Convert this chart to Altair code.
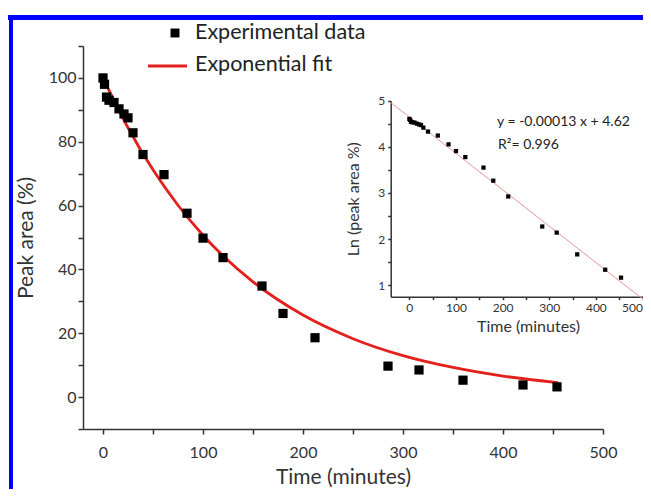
import altair as alt
import pandas as pd

# ---- data ----
time_min = [0, 1.5, 3.5, 6, 11, 16, 21, 25, 30, 40, 61, 84, 100, 120, 159, 180, 212, 285, 316, 360, 420, 454]
peak_area = [100, 98, 94, 93, 92.3, 90.3, 88.7, 87.5, 82.8, 76, 69.7, 57.6, 49.8, 43.7, 34.8, 26.2, 18.6, 9.7, 8.5, 5.3, 3.8, 3.2]

# exponential fit curve
fit_time = [0, 25, 50, 75, 100, 150, 200, 250, 300, 350, 400, 455]
fit_value = [100, 84.4, 71.2, 60.1, 50.7, 36.1, 25.7, 18.3, 13.0, 9.3, 6.6, 4.5]

legend_labels = ["Experimental data", "Exponential fit"]
inset_labels = ["y = -0.00013 x + 4.62", "R\u00b2= 0.996"]

main_x_ticks = [0, 50, 100, 150, 200, 250, 300, 350, 400, 450, 500]
main_y_ticks = [-10, 0, 10, 20, 30, 40, 50, 60, 70, 80, 90, 100, 110]
inset_x_ticks = [0, 50, 100, 150, 200, 250, 300, 350, 400, 450, 500]
inset_y_ticks = [1, 1.5, 2, 2.5, 3, 3.5, 4, 4.5, 5]

FONT = "Lato"
AX = "#333333"

df = pd.DataFrame({"t": time_min, "y": peak_area})
fit_df = pd.DataFrame({"t": fit_time, "y": fit_value})
one = pd.DataFrame({"k": [0]})

# ---- main panel ----
xm = alt.X("t:Q",
           scale=alt.Scale(domain=[-20, 500], nice=False, zero=False),
           axis=alt.Axis(values=main_x_ticks, labelFlush=False,
                         labelExpr="datum.value % 100 === 0 ? datum.label : ''",
                         title="Time (minutes)", labelPadding=10, titlePadding=6))
ym = alt.Y("y:Q",
           scale=alt.Scale(domain=[-10, 110], nice=False, zero=False),
           axis=alt.Axis(values=main_y_ticks, labelFlush=False,
                         labelExpr="(datum.value % 20 === 0 && datum.value >= 0 && datum.value <= 100) ? datum.label : ''",
                         title="Peak area (%)", titlePadding=12))

points = alt.Chart(df).mark_square(size=85, color="black", opacity=1).encode(x=xm, y=ym)
curve = (alt.Chart(fit_df)
         .mark_line(color="#e3211c", strokeWidth=2.8, interpolate="monotone")
         .encode(x=xm, y=ym))

frame_top = alt.Chart(one).mark_rule(color="#0000ff", strokeWidth=5).encode(
    x=alt.value(-80), x2=alt.value(600), y=alt.value(-28.5))
frame_left = alt.Chart(one).mark_rule(color="#0000ff", strokeWidth=4).encode(
    x=alt.value(-72), y=alt.value(-31), y2=alt.value(470))

leg_sq = alt.Chart(one).mark_square(size=80, color="black", opacity=1).encode(
    x=alt.value(92), y=alt.value(-13))
leg_line = alt.Chart(one).mark_rule(color="#e3211c", strokeWidth=3).encode(
    x=alt.value(65), x2=alt.value(104), y=alt.value(20))
leg_txt1 = alt.Chart(pd.DataFrame({"label": [legend_labels[0]]})).mark_text(
    align="left", baseline="middle", font=FONT, fontSize=21.5, color="#222222").encode(
    x=alt.value(112), y=alt.value(-13), text="label:N")
leg_txt2 = alt.Chart(pd.DataFrame({"label": [legend_labels[1]]})).mark_text(
    align="left", baseline="middle", font=FONT, fontSize=21.5, color="#222222").encode(
    x=alt.value(112), y=alt.value(19), text="label:N")

main = alt.layer(frame_top, frame_left, curve, points, leg_sq, leg_line, leg_txt1, leg_txt2)

# ---- inset panel ----
ix = alt.X("t:Q",
           scale=alt.Scale(domain=[-40, 500], range=[307.7, 559.5], nice=False, zero=False),
           axis=alt.Axis(orient="bottom", offset=-132.3, values=inset_x_ticks,
                         labelExpr="datum.value % 100 === 0 ? datum.label : ''",
                         labelFlush=True,
                         title="Time (minutes)", labelFontSize=12, titleFontSize=16,
                         tickSize=3, labelPadding=3, titlePadding=5, titleX=445))
iy = alt.Y("ln:Q",
           scale=alt.Scale(domain=[0.75, 5], range=[250.7, 54.7], nice=False, zero=False),
           axis=alt.Axis(orient="left", offset=-307.7, values=inset_y_ticks, labelFlush=False,
                         labelExpr="datum.value % 1 === 0 ? format(datum.value, 'd') : ''",
                         title="Ln (peak area %)", labelFontSize=12, titleFontSize=16,
                         tickSize=3, labelPadding=3, titlePadding=16))

ibase = alt.Chart(df).transform_calculate(ln="log(datum.y)")
iline = (ibase.transform_regression("t", "ln", extent=[-40, 500])
         .mark_line(color="#e79595", strokeWidth=1).encode(x=ix, y=iy))
ipoints = ibase.mark_square(size=18, color="black", opacity=1).encode(x=ix, y=iy)
itxt1 = alt.Chart(pd.DataFrame({"label": [inset_labels[0]]})).mark_text(
    align="left", baseline="middle", font=FONT, fontSize=14, color="#222222").encode(
    x=alt.value(414), y=alt.value(76), text="label:N")
itxt2 = alt.Chart(pd.DataFrame({"label": [inset_labels[1]]})).mark_text(
    align="left", baseline="middle", font=FONT, fontSize=14, color="#222222").encode(
    x=alt.value(415), y=alt.value(99), text="label:N")

inset = alt.layer(iline, ipoints, itxt1, itxt2)

chart = (alt.layer(main, inset)
         .resolve_scale(x="independent", y="independent")
         .properties(width=520, height=383,
                     padding={"left": 75, "top": 38, "right": 40, "bottom": 60},
                     autosize=alt.AutoSizeParams(type="none"))
         .configure_view(stroke=None)
         .configure_axis(grid=False, domainColor=AX, tickColor=AX, domainWidth=1.5,
                         tickWidth=1.5, tickSize=5, labelColor=AX, titleColor=AX,
                         labelFont=FONT, titleFont=FONT, labelFontSize=16,
                         titleFontSize=21, titleFontWeight="normal"))

chart.save("out.html", embed_options={"renderer": "svg", "actions": False})
